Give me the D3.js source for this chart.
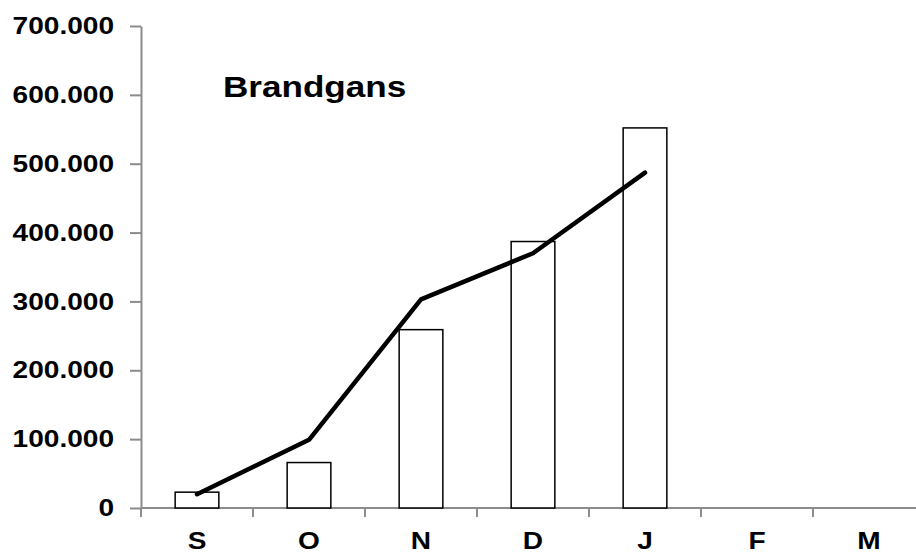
<!DOCTYPE html>
<html>
<head>
<meta charset="utf-8">
<script src="https://cdn.jsdelivr.net/npm/d3@7"></script>
<style>
  body { margin: 0; background: #fff; }
  svg text { font-family: "Liberation Sans", Arial, sans-serif; font-weight: bold; fill: #000; }
</style>
</head>
<body>
<svg id="chart"></svg>
<script>
// data
const months = ["S", "O", "N", "D", "J", "F", "M"];
const barValues = [23000, 66000, 259000, 387000, 552000];
const lineValues = [20000, 99000, 303000, 370000, 487000];
const yTicks = [0, 100000, 200000, 300000, 400000, 500000, 600000, 700000];
const title = "Brandgans";

const width = 916, height = 553;
const dims = { left: 141, right: 925, top: 26, bottom: 508 };
const stretch = 1.17; // the picture's text is a bit wide

const svg = d3.select("#chart").attr("width", width).attr("height", height);

const x = d3.scaleBand().domain(months).range([dims.left, dims.right]).padding(0);
const y = d3.scaleLinear().domain([0, 700000]).range([dims.bottom, dims.top]);

const nl = d3.formatLocale({ decimal: ",", thousands: ".", grouping: [3], currency: ["", ""] });
const fmt = nl.format(",d");

// y axis
const yAxis = svg.append("g")
  .attr("transform", "translate(" + dims.left + ",0)")
  .call(d3.axisLeft(y).tickValues(yTicks).tickFormat(fmt).tickSize(11).tickPadding(12).tickSizeOuter(0));
yAxis.select(".domain").attr("stroke", "#8c8c8c").attr("stroke-width", 2);
yAxis.selectAll(".tick line").attr("stroke", "#8c8c8c").attr("stroke-width", 2);
yAxis.selectAll(".tick text")
  .attr("font-size", 24)
  .attr("transform", "scale(" + stretch + ",1)");

// x axis: line, ticks on band edges, labels in the middle
const xAxis = svg.append("g");
xAxis.append("line")
  .attr("x1", dims.left).attr("x2", width)
  .attr("y1", y(0)).attr("y2", y(0))
  .attr("stroke", "#8c8c8c").attr("stroke-width", 2);
xAxis.selectAll("line.tick")
  .data(months)
  .enter()
  .append("line")
  .attr("class", "tick")
  .attr("x1", (d) => x(d)).attr("x2", (d) => x(d))
  .attr("y1", y(0)).attr("y2", y(0) + 9)
  .attr("stroke", "#8c8c8c").attr("stroke-width", 2);
xAxis.selectAll("text")
  .data(months)
  .enter()
  .append("text")
  .attr("x", (d) => (x(d) + x.bandwidth() / 2) / stretch)
  .attr("y", y(0) + 41)
  .attr("transform", "scale(" + stretch + ",1)")
  .attr("text-anchor", "middle")
  .attr("font-size", 24)
  .text((d) => d);

// bars
const barW = x.bandwidth() * 0.39;
svg.selectAll("rect.bar")
  .data(barValues)
  .enter()
  .append("rect")
  .attr("class", "bar")
  .attr("x", (d, i) => x(months[i]) + (x.bandwidth() - barW) / 2)
  .attr("y", (d) => y(d))
  .attr("width", barW)
  .attr("height", (d) => y(0) - y(d))
  .attr("fill", "#fff")
  .attr("stroke", "#000")
  .attr("stroke-width", 1.5);

// line
const line = d3.line()
  .x((d, i) => x(months[i]) + x.bandwidth() / 2)
  .y((d) => y(d));
svg.append("path")
  .datum(lineValues)
  .attr("d", line)
  .attr("fill", "none")
  .attr("stroke", "#000")
  .attr("stroke-width", 4.5)
  .attr("stroke-linejoin", "round")
  .attr("stroke-linecap", "round");

// title
svg.append("text")
  .attr("x", 223 / stretch)
  .attr("y", 97)
  .attr("transform", "scale(" + stretch + ",1)")
  .attr("font-size", 30)
  .text(title);
</script>
</body>
</html>
